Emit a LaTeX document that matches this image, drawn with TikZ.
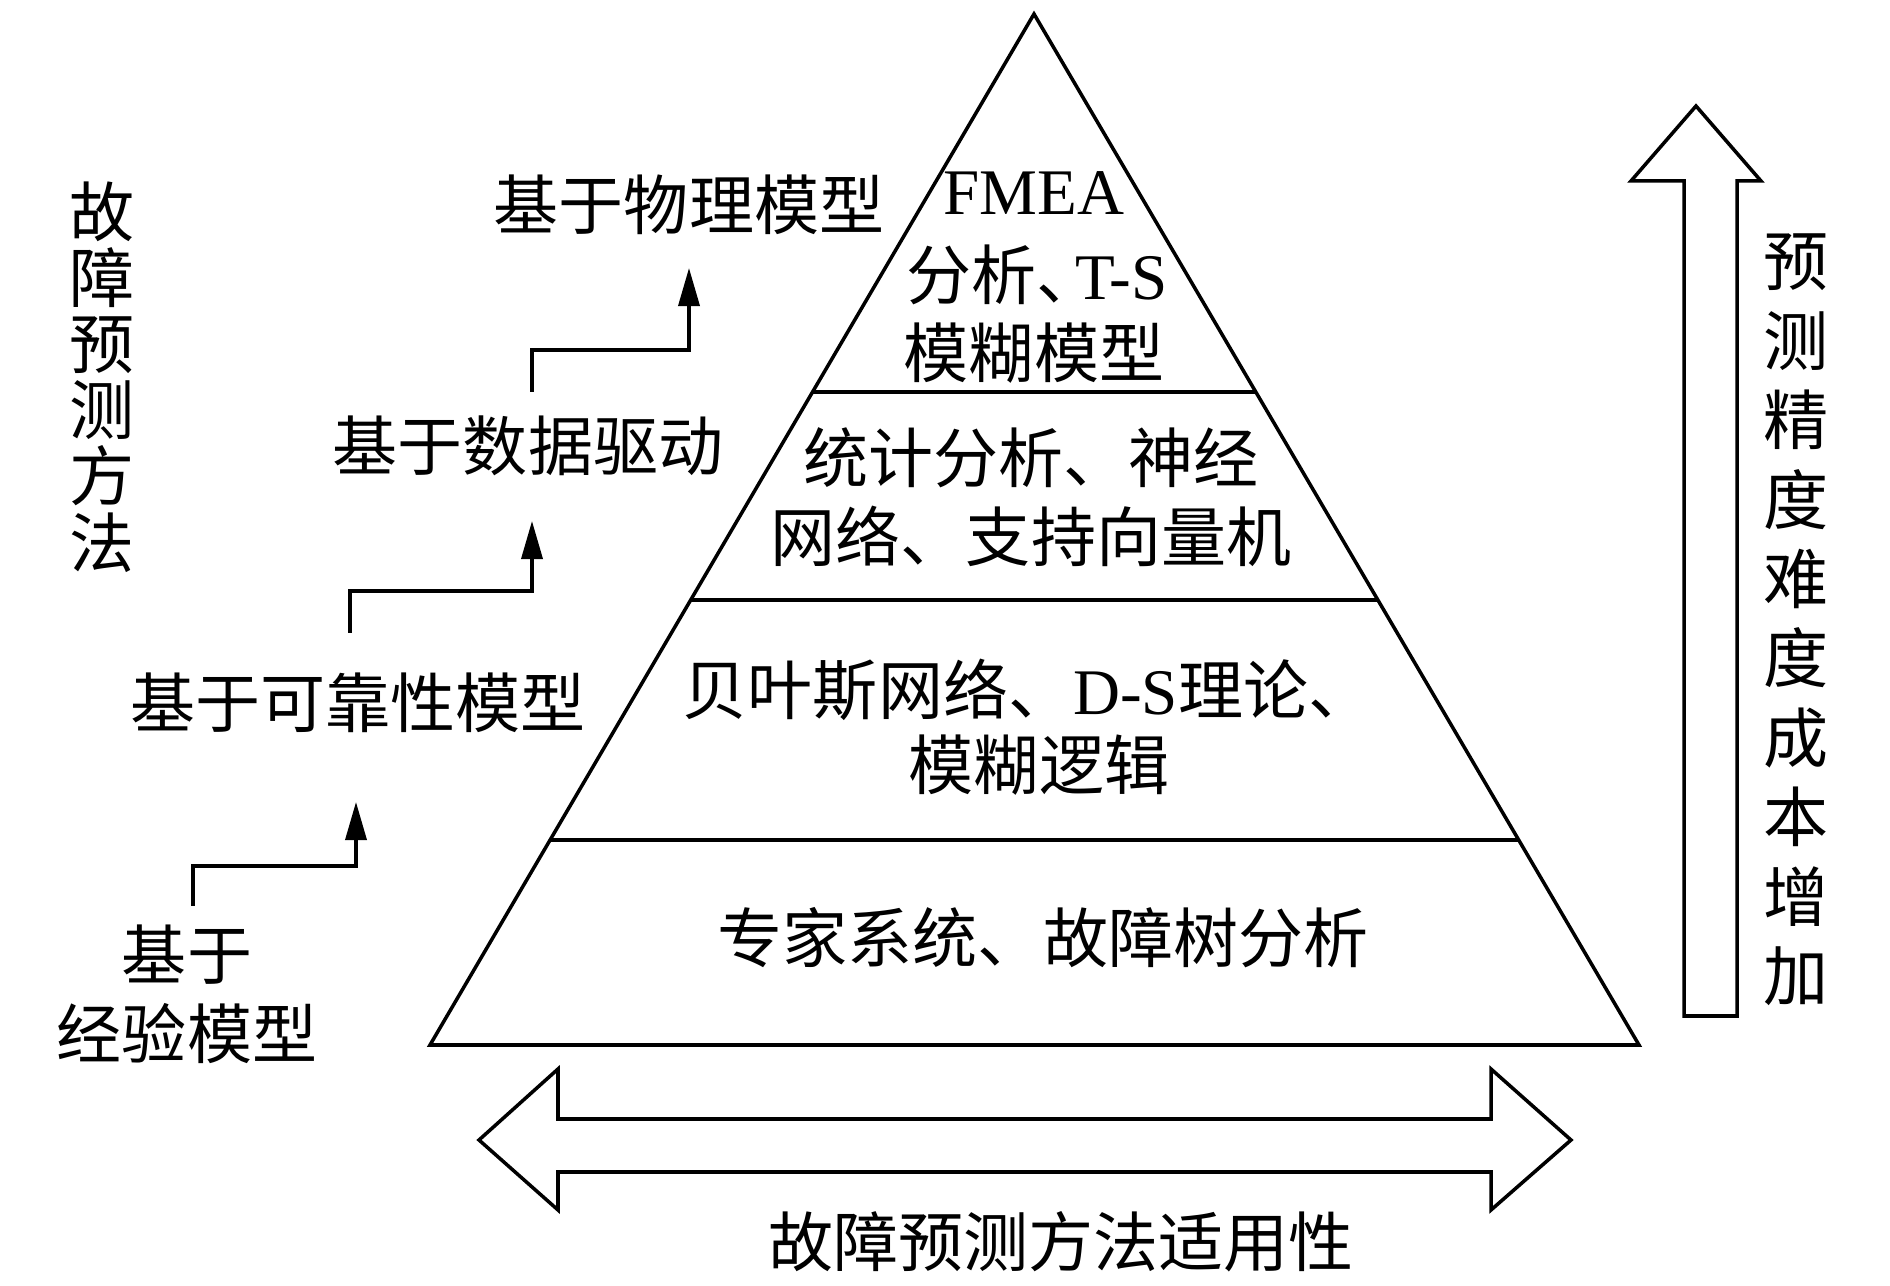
\documentclass[tikz,border=0pt]{standalone}
\usepackage{fontspec}
\setmainfont{Liberation Serif}
\newfontfamily\cjk{Noto Sans CJK SC}
\usetikzlibrary{arrows.meta,calc}
\newcommand\lat[1]{{\rmfamily #1}}
\tikzset{
  lbl/.style={font=\fontsize{18.5pt}{22pt}\selectfont\cjk, inner sep=0pt, align=center},
  vlbl/.style={lbl, font=\fontsize{18.5pt}{18.8pt}\selectfont\cjk},
  vlblr/.style={lbl, font=\fontsize{18.5pt}{22.6pt}\selectfont\cjk},
  edge/.style={line width=1pt, line join=miter},
  divider/.style={line width=1.4pt},
  steparrow/.style={line width=1pt, -{Triangle[length=0.38cm,width=0.21cm]}},
  hollow/.style={line width=1pt, line join=miter, fill=white}
}
\begin{document}
\begin{tikzpicture}[x=0.01cm, y=-0.01cm]
\useasboundingbox (0,0) rectangle (1890,1286);
% pyramid
\coordinate (apex) at (1034,14);
\coordinate (bl) at (430,1045);
\coordinate (br) at (1639,1045);
\draw[edge] (apex) -- (bl) -- (br) -- cycle;
\foreach \yy in {392, 600, 840} {
  \pgfmathsetmacro\tt{(\yy-14)/1031}
  \draw[divider] ($(apex)!\tt!(bl)$) -- ($(apex)!\tt!(br)$);
}
% texts in pyramid
\node[lbl] (p1a) at (1034,193) {\lat{FMEA}};
\node[lbl] (p1b) at (1037,275) {分析、\kern-0.4em\lat{T-S}};
\node[lbl] (p1c) at (1034,353) {模糊模型};
\node[lbl] (p2a) at (1031,458) {统计分析、神经};
\node[lbl] (p2b) at (1031,536) {网络、支持向量机};
\node[lbl] (p3a) at (1028,690) {贝叶斯网络、\lat{D-S}理论、};
\node[lbl] (p3b) at (1039,765) {模糊逻辑};
\node[lbl] (p4) at (1043,938) {专家系统、故障树分析};
% left labels
\node[vlbl] (title) at (102,377) {故\\障\\预\\测\\方\\法};
\node[lbl] (m4) at (689,205) {基于物理模型};
\node[lbl] (m3) at (528,446) {基于数据驱动};
\node[lbl] (m2) at (358,703) {基于可靠性模型};
\node[lbl, font=\fontsize{18.5pt}{22.5pt}\selectfont\cjk] (m1) at (187,994) {基于\\经验模型};
% step arrows
\coordinate (s1) at (193,906);
\coordinate (e1) at (356,802);
\coordinate (s2) at (350,633);
\coordinate (e2) at (532,521);
\coordinate (s3) at (532,392);
\coordinate (e3) at (689,268);
\draw[steparrow] (s1) -- ++(0,-40) -| (e1);
\draw[steparrow] (s2) -- ++(0,-42) -| (e2);
\draw[steparrow] (s3) -- ++(0,-42) -| (e3);
% right hollow arrow
\draw[hollow] (1696,106) -- (1761,181) -- (1737,181) -- (1737,1016) -- (1684,1016) -- (1684,181) -- (1631,181) -- cycle;
\node[vlblr] (acc) at (1796,620) {预\\测\\精\\度\\难\\度\\成\\本\\增\\加};
% bottom double arrow
\draw[hollow] (479,1140) -- (558,1069) -- (558,1119) -- (1491,1119) -- (1491,1069) -- (1571,1140) -- (1491,1210) -- (1491,1172) -- (558,1172) -- (558,1210) -- cycle;
\node[lbl] (app) at (1061,1242) {故障预测方法适用性};
\end{tikzpicture}
\end{document}
